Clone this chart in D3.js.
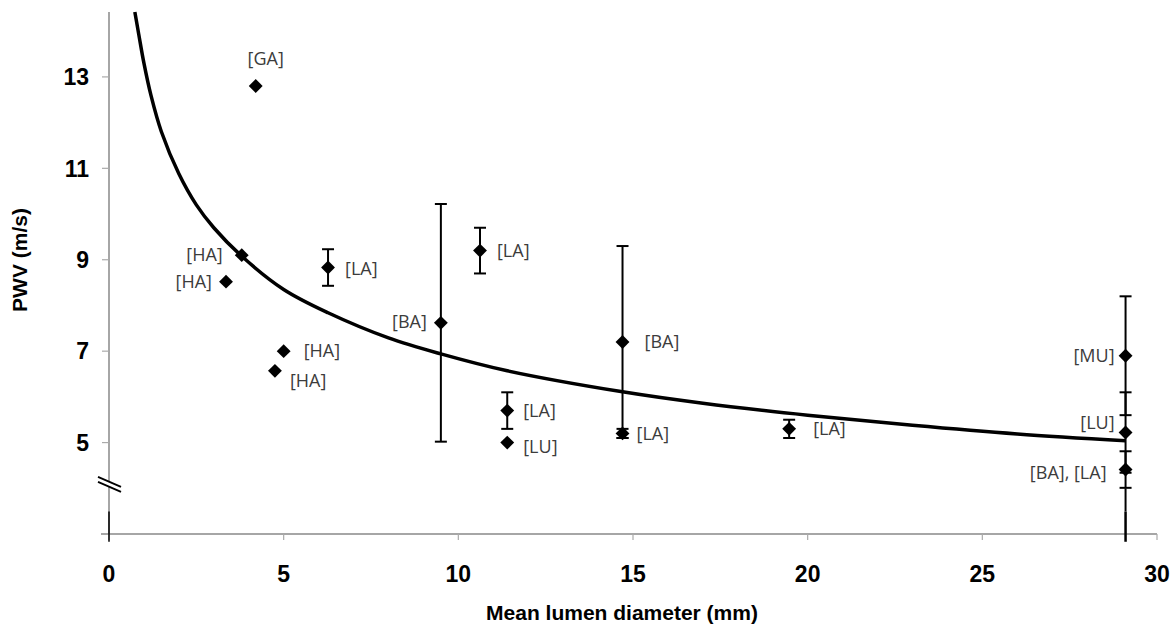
<!DOCTYPE html>
<html lang="en">
<head>
    <meta charset="UTF-8">
    <title>PWV vs mean lumen diameter</title>
    <script src="https://d3js.org/d3.v7.min.js"></script>
    <style>
        body { margin: 0; background: #fff; }
        svg { display: block; }
        .tick-label { font-family: "Liberation Sans", Arial, sans-serif; font-weight: bold; font-size: 23px; fill: #000; }
        .axis-title { font-family: "Liberation Sans", Arial, sans-serif; font-weight: bold; font-size: 21px; fill: #000; }
        .site-label { font-family: "Open Sans", sans-serif; font-size: 18px; fill: #3c3c3c; }
    </style>
</head>
<body>
<svg id="chart" width="1176" height="628"></svg>
<script>
    // tick values
    const xTicks = [0, 5, 10, 15, 20, 25, 30];
    const yTicks = [5, 7, 9, 11, 13];

    // measured points: diameter (mm), PWV (m/s), +/- error, arterial site
    const diameter = [4.2, 3.8, 3.35, 5.0, 4.75, 6.27, 9.5, 10.62, 11.4, 11.4, 14.7, 14.7, 19.47, 29.1, 29.1, 29.1];
    const pwv      = [12.8, 9.1, 8.52, 7.0, 6.57, 8.83, 7.62, 9.2, 5.7, 5.0, 7.2, 5.2, 5.3, 6.9, 5.22, 4.41];
    const pwvErr   = [0, 0, 0, 0, 0, 0.4, 2.6, 0.5, 0.4, 0, 2.1, 0.1, 0.2, 1.3, 0.88, 0.4];
    const siteLabels = ["[GA]", "[HA]", "[HA]", "[HA]", "[HA]", "[LA]", "[BA]", "[LA]", "[LA]", "[LU]", "[BA]", "[LA]", "[LA]", "[MU]", "[LU]", "[BA], [LA]"];

    // trend line
    const trendX = [0.74, 0.85, 1.0, 1.2, 1.5, 2.0, 2.5, 3.0, 3.81, 5.0, 6.27, 8.0, 9.5, 11.4, 14.7, 17.0, 20.0, 23.0, 26.0, 29.1];
    const trendY = [14.42, 13.94, 13.3, 12.6, 11.8, 10.88, 10.2, 9.7, 9.07, 8.35, 7.84, 7.29, 6.94, 6.57, 6.11, 5.86, 5.6, 5.38, 5.19, 5.04];

    // label placement (anchor, dx, dy in px) for each point
    const labelPlace = [
        ["middle", 10, -27], ["end", -19, 0], ["end", -14, 0], ["start", 20, 0],
        ["start", 15, 10], ["start", 17, 1], ["end", -14, -1], ["start", 17, 0],
        ["start", 16, 0], ["start", 16, 4], ["start", 22, 0], ["start", 14, 0],
        ["start", 24, 0], ["end", -11, 0], ["end", -11, -10], ["end", -19, 3]
    ];

    const svg = d3.select("#chart");

    const x = d3.scaleLinear().domain([0, 30]).range([109, 1157]);
    const y = d3.scaleLinear().domain([3, 14.42]).range([534, 12]);

    // y axis line (gray) with tick marks
    svg.append("line")
        .attr("x1", x(0)).attr("x2", x(0))
        .attr("y1", y(14.42)).attr("y2", y(3))
        .attr("stroke", "#888").attr("stroke-width", 1.5);

    svg.selectAll(".ytick").data(yTicks).enter().append("line")
        .attr("x1", x(0) - 7).attr("x2", x(0))
        .attr("y1", d => y(d)).attr("y2", d => y(d))
        .attr("stroke", "#aaa").attr("stroke-width", 1.2);

    svg.selectAll(".ylabel").data(yTicks).enter().append("text")
        .attr("class", "tick-label")
        .attr("x", x(0) - 20)
        .attr("y", d => y(d))
        .attr("dy", "0.36em")
        .attr("text-anchor", "end")
        .text(d => d);

    // x axis line
    svg.append("line")
        .attr("x1", x(0) - 8).attr("x2", x(30))
        .attr("y1", y(3)).attr("y2", y(3))
        .attr("stroke", "#888").attr("stroke-width", 1.3);

    svg.selectAll(".xtick").data(xTicks).enter().append("line")
        .attr("x1", d => x(d)).attr("x2", d => x(d))
        .attr("y1", y(3)).attr("y2", y(3) + 6)
        .attr("stroke", "#aaa").attr("stroke-width", 1.2);

    svg.selectAll(".xlabel").data(xTicks).enter().append("text")
        .attr("class", "tick-label")
        .attr("x", d => x(d))
        .attr("y", 582)
        .attr("text-anchor", "middle")
        .text(d => d);

    // black stubs below the break
    [0, 29.1].forEach(v => {
        svg.append("line")
            .attr("x1", x(v)).attr("x2", x(v))
            .attr("y1", y(3.49)).attr("y2", y(2.83))
            .attr("stroke", "#000").attr("stroke-width", v === 0 ? 1.5 : 2.5);
    });

    // axis break mark
    const by = y(4.12);
    svg.append("polygon")
        .attr("points", `${x(0) - 11},${by - 6} ${x(0) + 12},${by + 4} ${x(0) + 12},${by + 9} ${x(0) - 11},${by - 1}`)
        .attr("fill", "#fff");
    [-6, -1].forEach(off => {
        svg.append("line")
            .attr("x1", x(0) - 11).attr("y1", by + off)
            .attr("x2", x(0) + 12).attr("y2", by + off + 10)
            .attr("stroke", "#000").attr("stroke-width", 1.8);
    });

    // axis titles
    svg.append("text")
        .attr("class", "axis-title")
        .attr("x", 622).attr("y", 620)
        .attr("text-anchor", "middle")
        .text("Mean lumen diameter (mm)");

    svg.append("text")
        .attr("class", "axis-title")
        .attr("transform", "translate(27,260) rotate(-90)")
        .attr("text-anchor", "middle")
        .text("PWV (m/s)");

    // trend line
    const trend = trendX.map((d, i) => [d, trendY[i]]);
    svg.append("path")
        .datum(trend)
        .attr("fill", "none")
        .attr("stroke", "#000")
        .attr("stroke-width", 3.5)
        .attr("d", d3.line().x(d => x(d[0])).y(d => y(d[1])).curve(d3.curveCatmullRom));

    // error bars
    const pts = diameter.map((d, i) => ({ d, v: pwv[i], e: pwvErr[i], label: siteLabels[i], place: labelPlace[i] }));
    const withErr = pts.filter(p => p.e > 0);
    const bars = svg.append("g").attr("stroke", "#000").attr("stroke-width", 2);
    withErr.forEach(p => {
        bars.append("line")
            .attr("x1", x(p.d)).attr("x2", x(p.d))
            .attr("y1", y(p.v + p.e)).attr("y2", y(p.v - p.e));
        [p.v + p.e, p.v - p.e].forEach(c => {
            bars.append("line")
                .attr("x1", x(p.d) - 6).attr("x2", x(p.d) + 6)
                .attr("y1", y(c)).attr("y2", y(c));
        });
    });

    // MU error bar continues down to the bottom stub
    bars.append("line")
        .attr("x1", x(29.1)).attr("x2", x(29.1))
        .attr("y1", y(4.0)).attr("y2", y(3.49));

    // diamond markers
    const diamond = d3.symbol().type(d3.symbolSquare).size(96);
    svg.selectAll(".pt").data(pts).enter().append("path")
        .attr("d", diamond)
        .attr("transform", p => `translate(${x(p.d)},${y(p.v)}) rotate(45)`)
        .attr("fill", "#000");

    // site labels
    svg.selectAll(".site").data(pts).enter().append("text")
        .attr("class", "site-label")
        .attr("x", p => x(p.d) + p.place[1])
        .attr("y", p => y(p.v) + p.place[2])
        .attr("dy", "0.35em")
        .attr("text-anchor", p => p.place[0])
        .text(p => p.label);
</script>
</body>
</html>
